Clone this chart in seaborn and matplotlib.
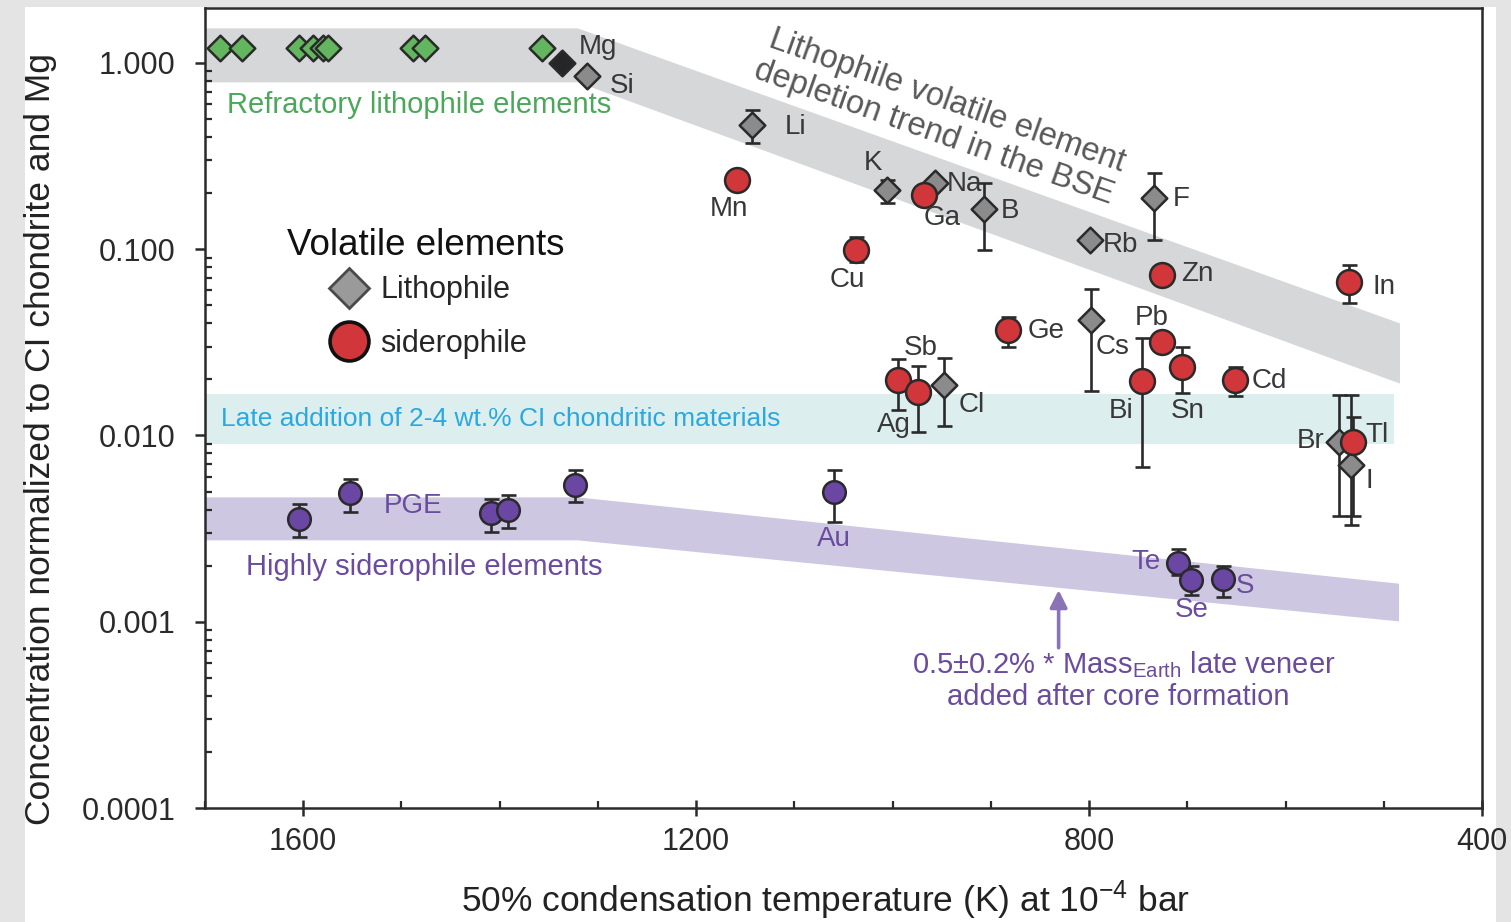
import numpy as np
import matplotlib
matplotlib.use("Agg")
import matplotlib.pyplot as plt
import seaborn as sns
from matplotlib.lines import Line2D
from matplotlib.patches import Rectangle
from matplotlib.ticker import LogLocator, NullFormatter, FixedLocator, MultipleLocator

nan = np.nan

# ---------------- data ----------------
# refractory lithophile elements (green diamonds)
refr_T = [1685, 1662, 1604, 1590, 1580, 1575, 1488, 1476, 1357]
refr_v = [1.20, 1.20, 1.20, 1.20, 1.20, 1.20, 1.20, 1.20, 1.20]
# Mg (black diamond)
mg_T = [1337]
mg_v = [1.0]

# volatile lithophile elements (grey diamonds)
litho_names = ["Si", "Li", "K", "Na", "B", "Rb", "F", "Cs", "Cl", "Br", "I"]
litho_T = [1311, 1143, 1006, 957, 907, 799, 734, 798, 948, 546, 533]
litho_v = [0.851, 0.465, 0.208, 0.227, 0.164, 0.112, 0.188, 0.0417, 0.0187, 0.00923, 0.00695]
litho_lo = [nan, 0.372, 0.177, nan, 0.099, nan, 0.112, 0.0173, 0.0112, 0.00370, 0.00331]
litho_hi = [nan, 0.560, 0.235, nan, 0.227, nan, 0.257, 0.0612, 0.0262, 0.0165, 0.0165]

# volatile siderophile elements (red circles)
sid_names = ["Mn", "Ga", "Cu", "Zn", "In", "Ge", "Pb", "Sn", "Bi", "Cd", "Ag", "Sb", "Tl"]
sid_T = [1158, 968, 1037, 726, 535, 883, 726, 705, 746, 651, 995, 974, 531]
sid_v = [0.235, 0.195, 0.099, 0.0727, 0.0667, 0.0368, 0.0318, 0.0233, 0.0196, 0.0199, 0.0199, 0.0171, 0.00923]
sid_lo = [nan, nan, 0.0856, nan, 0.0514, 0.0300, nan, 0.0169, 0.00681, 0.0162, 0.0137, 0.0104, 0.00370]
sid_hi = [nan, nan, 0.116, nan, 0.0822, 0.0434, nan, 0.0298, 0.0334, 0.0234, 0.0258, 0.0237, 0.01257]

# highly siderophile elements (purple circles): 5 PGE, Au, Te, Se, S
hse_names = ["PGE", "PGE", "PGE", "PGE", "PGE", "Au", "Te", "Se", "S"]
hse_T = [1604, 1552, 1409, 1392, 1323, 1060, 709, 696, 664]
hse_v = [0.00356, 0.00491, 0.00383, 0.00398, 0.00542, 0.00497, 0.00207, 0.00168, 0.00170]
hse_lo = [0.00285, 0.00388, 0.00303, 0.00319, 0.00440, 0.00344, 0.00178, 0.00139, 0.00136]
hse_hi = [0.00429, 0.00584, 0.00456, 0.00479, 0.00653, 0.00653, 0.00246, 0.00199, 0.00199]

# bands
band_litho_T = [1700, 1321, 484]
band_litho_hi = [1.54, 1.54, 0.0402]
band_litho_lo = [0.791, 0.791, 0.0191]
band_ci_T = [1700, 490]
band_ci_lo = [0.0090, 0.0090]
band_ci_hi = [0.0167, 0.0167]
band_hse_T = [1700, 1321, 485]
band_hse_hi = [0.00468, 0.00468, 0.00161]
band_hse_lo = [0.00275, 0.00275, 0.00101]

# axis ticks
x_major = [1600, 1200, 800, 400]
y_major = [1e-4, 1e-3, 1e-2, 1e-1, 1.0]
y_major_labels = ["0.0001", "0.001", "0.010", "0.100", "1.000"]

# ---------------- styling ----------------
C_GREEN = "#63b560"
C_GREEN_TXT = "#4ba85a"
C_GREY = "#8b8b8b"
C_BLACK = "#262626"
C_RED = "#d1363a"
C_PURPLE = "#6b47a4"
C_PURPLE_TXT = "#6a4b9e"
C_CYAN_TXT = "#2aa8df"
C_EDGE = "#2a2a2a"
C_LABEL = "#383838"

sns.set_theme(style="ticks")
plt.rcParams["font.family"] = ["Liberation Sans", "DejaVu Sans"]
plt.rcParams["mathtext.fontset"] = "custom"
plt.rcParams["mathtext.rm"] = "Liberation Sans"
plt.rcParams["mathtext.it"] = "Liberation Sans:italic"
plt.rcParams["mathtext.bf"] = "Liberation Sans:bold"

W, H = 1511, 922
fig = plt.figure(figsize=(W / 100, H / 100), dpi=100, facecolor="#e4e4e4")
fig.patches.append(Rectangle((25 / W, 0), (1496 - 25) / W, 1 - 7 / H,
                             transform=fig.transFigure, facecolor="white",
                             edgecolor="none", zorder=-10))
ax = fig.add_axes([205 / W, 1 - 808 / H, (1482 - 205) / W, (808 - 8) / H])
ax.set_facecolor("white")
ax.set_yscale("log")
ax.set_xlim(1700, 400)
ax.set_ylim(1e-4, 1.97)

# bands
ax.fill_between(band_litho_T, band_litho_lo, band_litho_hi, color="#d6d7d9", lw=0, zorder=0.5)
ax.fill_between(band_ci_T, band_ci_lo, band_ci_hi, color="#ddeeef", lw=0, zorder=0.5)
ax.fill_between(band_hse_T, band_hse_lo, band_hse_hi, color="#cec7e2", lw=0, zorder=0.5)


def errbars(T, v, lo, hi):
    T = np.asarray(T, float); v = np.asarray(v, float)
    lo = np.asarray(lo, float); hi = np.asarray(hi, float)
    m = ~np.isnan(lo)
    ax.errorbar(T[m], v[m], yerr=[v[m] - lo[m], hi[m] - v[m]], fmt="none",
                ecolor=C_EDGE, elinewidth=1.9, capsize=5.4, capthick=1.9, zorder=2)


errbars(litho_T, litho_v, litho_lo, litho_hi)
errbars(sid_T, sid_v, sid_lo, sid_hi)
errbars(hse_T, hse_v, hse_lo, hse_hi)

sns.scatterplot(x=refr_T, y=refr_v, marker="D", s=170, color=C_GREEN, edgecolor=C_EDGE,
                linewidth=1.8, ax=ax, zorder=3, legend=False)
sns.scatterplot(x=mg_T, y=mg_v, marker="D", s=170, color=C_BLACK, edgecolor=C_EDGE,
                linewidth=1.8, ax=ax, zorder=3, legend=False)
sns.scatterplot(x=litho_T, y=litho_v, marker="D", s=170, color=C_GREY, edgecolor=C_EDGE,
                linewidth=1.8, ax=ax, zorder=3, legend=False)
sns.scatterplot(x=sid_T, y=sid_v, marker="o", s=320, color=C_RED, edgecolor=C_EDGE,
                linewidth=1.8, ax=ax, zorder=4, legend=False)
sns.scatterplot(x=hse_T, y=hse_v, marker="o", s=265, color=C_PURPLE, edgecolor=C_EDGE,
                linewidth=1.8, ax=ax, zorder=4, legend=False)

# element labels (T, value of label centre)
elem_labels = [
    ("Mg", 1300, 1.219), ("Si", 1275, 0.753), ("Li", 1099, 0.453), ("Mn", 1167, 0.1645),
    ("K", 1020, 0.290), ("Na", 927, 0.2237), ("Ga", 950, 0.147), ("B", 880, 0.1605),
    ("Rb", 768, 0.1055), ("F", 706, 0.1864), ("Zn", 690, 0.0737), ("In", 500, 0.0626),
    ("Cu", 1046, 0.0685), ("Ge", 844, 0.0364), ("Cs", 776, 0.0300), ("Pb", 736, 0.0426),
    ("Sb", 971, 0.0295), ("Ag", 999, 0.01131), ("Cl", 919, 0.01452), ("Bi", 767, 0.01351),
    ("Sn", 700, 0.01351), ("Cd", 617, 0.01949), ("Br", 574, 0.00933), ("Tl", 507, 0.01006),
    ("I", 515, 0.00571),
]
for name, T, v in elem_labels:
    ax.text(T, v, name, ha="center", va="center", fontsize=20, color=C_LABEL, zorder=5)

hse_labels = [("PGE", 1488, 0.00418), ("Au", 1060, 0.00277), ("Te", 742, 0.00210),
              ("Se", 696, 0.00115), ("S", 641, 0.00156)]
for name, T, v in hse_labels:
    ax.text(T, v, name, ha="center", va="center", fontsize=20, color=C_PURPLE_TXT, zorder=5)

ax.text(1482, 0.595, "Refractory lithophile elements", ha="center", va="center",
        fontsize=21, color=C_GREEN_TXT, zorder=5)
ax.text(1477, 0.00197, "Highly siderophile elements", ha="center", va="center",
        fontsize=21, color=C_PURPLE_TXT, zorder=5)
ax.text(1399, 0.0122, "Late addition of 2-4 wt.% CI chondritic materials", ha="center",
        va="center", fontsize=19, color=C_CYAN_TXT, zorder=5)
ax.text(765, 0.000585, r"0.5±0.2% * Mass$_{\mathrm{Earth}}$ late veneer", ha="center",
        va="center", fontsize=21, color=C_PURPLE_TXT, zorder=5)
ax.text(770, 0.000393, "added after core formation", ha="center", va="center",
        fontsize=21, color=C_PURPLE_TXT, zorder=5)
ax.text(1128, 1.219, "Lithophile volatile element", rotation=-19.5, rotation_mode="anchor",
        ha="left", va="baseline", fontsize=23.5, color="#585858", zorder=5)
ax.text(1143, 0.831, "depletion trend in the BSE", rotation=-19.5, rotation_mode="anchor",
        ha="left", va="baseline", fontsize=23.5, color="#585858", zorder=5)

ax.annotate("", xy=(831, 0.00148), xytext=(831, 0.000725),
            arrowprops=dict(arrowstyle="-|>", color="#8a74b5", lw=2.6, mutation_scale=26,
                            shrinkA=0, shrinkB=0), zorder=5)

# legend (title drawn as separate text for exact spacing)
ax.text(0.1731, 0.703, "Volatile elements", transform=ax.transAxes, ha="center",
        va="center", fontsize=26.5, color="#111111", zorder=5)
handles = [
    Line2D([], [], marker="D", ls="none", ms=20, mfc="#9a9a9a", mec="#4a4a4a", mew=2.0,
           label="Lithophile"),
    Line2D([], [], marker="o", ls="none", ms=28, mfc=C_RED, mec="#111111", mew=2.6,
           label="siderophile"),
]
ax.legend(handles=handles, fontsize=22, frameon=False, loc="center",
          bbox_to_anchor=(0.1758, 0.6135), handlelength=1.15, handletextpad=0.45,
          labelspacing=0.78, borderpad=0)

# axes & ticks
for sp in ax.spines.values():
    sp.set_color(C_EDGE)
    sp.set_linewidth(1.8)
    sp.set_visible(True)

ax.xaxis.set_major_locator(FixedLocator(x_major))
ax.xaxis.set_minor_locator(MultipleLocator(100))
ax.set_xticklabels([str(t) for t in x_major])
ax.yaxis.set_major_locator(FixedLocator(y_major))
ax.set_yticklabels(y_major_labels)
ax.yaxis.set_minor_locator(LogLocator(base=10, subs=np.arange(2, 10)))
ax.yaxis.set_minor_formatter(NullFormatter())

ax.tick_params(axis="x", which="major", direction="inout", length=12, width=1.8,
               color=C_EDGE, labelsize=22, pad=8, labelcolor="#2a2a2a")
ax.tick_params(axis="y", which="major", direction="out", length=7, width=1.8,
               color=C_EDGE, labelsize=22, pad=14, labelcolor="#2a2a2a")
ax.tick_params(which="minor", direction="in", length=5, width=1.6, color=C_EDGE)
ax.tick_params(top=False, right=False, which="both")

ax.set_xlabel(r"50% condensation temperature (K) at 10$^{\mathrm{-4}}$ bar", fontsize=25.5,
              color="#222222")
ax.xaxis.set_label_coords(0.486, -0.115)
ax.xaxis.label.set_va("center")
ax.set_ylabel("Concentration normalized to CI chondrite and Mg", fontsize=25.5, color="#222222")
ax.yaxis.set_label_coords(-0.129, 0.461)
ax.yaxis.label.set_va("center")

fig.savefig("out.png", dpi=100, facecolor=fig.get_facecolor())
